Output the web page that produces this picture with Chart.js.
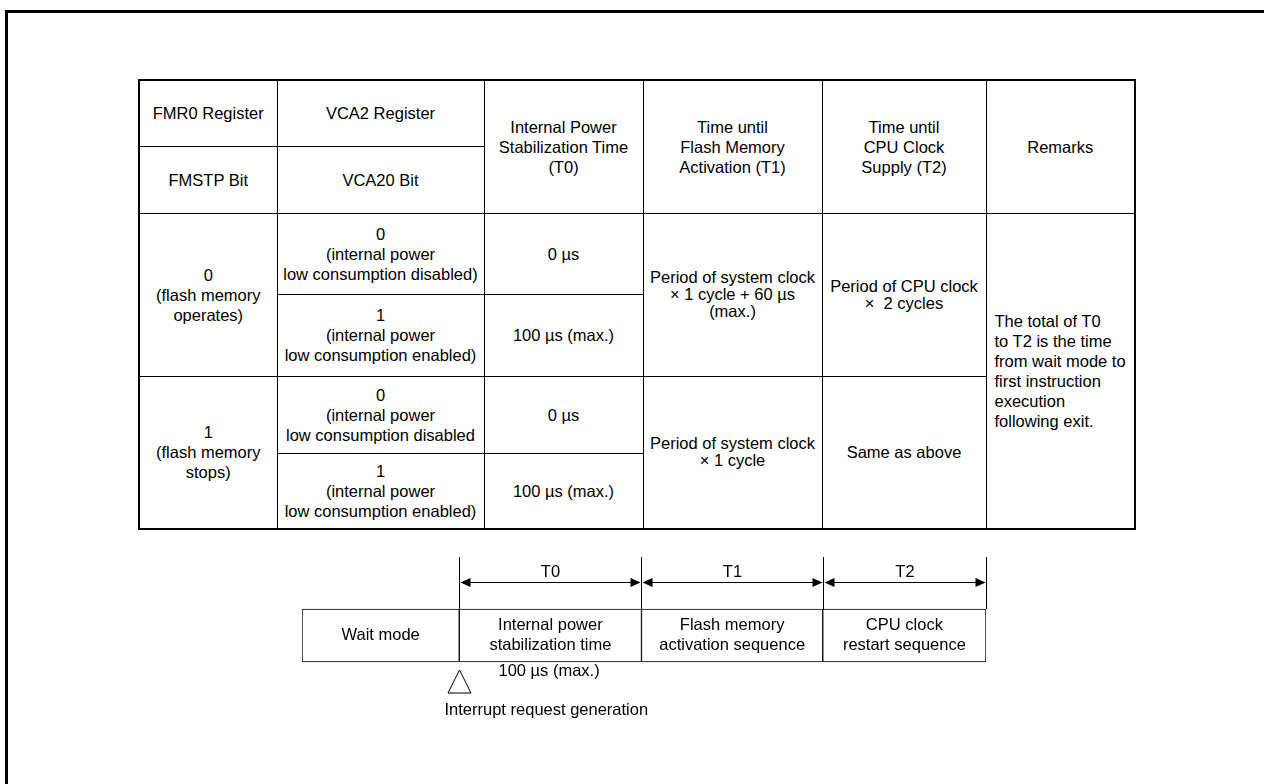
<!DOCTYPE html>
<html>
<head>
<meta charset="utf-8">
<script src="https://cdn.jsdelivr.net/npm/chart.js@4.4.1/dist/chart.umd.min.js"></script>
<style>
  html, body { margin: 0; padding: 0; background: #fff; }
  body { width: 1264px; height: 784px; overflow: hidden; position: relative; font-family: "Liberation Sans", Arial, sans-serif; color: #000; }
  .frame { position: absolute; left: 5px; top: 10px; width: 1300px; height: 800px; border-left: 3px solid #000; border-top: 3px solid #000; }
  table.spec { position: absolute; left: 138px; top: 79px; border-collapse: collapse; table-layout: fixed; border: 2px solid #000; font-size: 16.5px; line-height: 20px; }
  table.spec td { border: 1px solid #000; padding: 0; text-align: center; vertical-align: middle; white-space: pre; overflow: visible; }
  table.spec td.tight { line-height: 17px; }
  table.spec td.remarks { text-align: left; padding-left: 8px; }
  #timing { position: absolute; left: 300px; top: 550px; }
</style>
</head>
<body>
<div class="frame"></div>
<table class="spec" id="spec">
  <colgroup>
    <col style="width:138px"><col style="width:207px"><col style="width:159px">
    <col style="width:179px"><col style="width:164px"><col style="width:149px">
  </colgroup>
  <tbody id="specBody"></tbody>
</table>
<div id="timing" style="width:688px;height:175px"><canvas id="timingChart"></canvas></div>
<script>
// table contents
const registerNames = ['FMR0 Register', 'VCA2 Register'];
const bitNames = ['FMSTP Bit', 'VCA20 Bit'];
const timeHeaders = ['Internal Power\nStabilization Time\n(T0)', 'Time until\nFlash Memory\nActivation (T1)', 'Time until\nCPU Clock\nSupply (T2)', 'Remarks'];
const fmstpValues = ['0\n(flash memory\noperates)', '1\n(flash memory\nstops)'];
const vca20Values = [
  '0\n(internal power\nlow consumption disabled)',
  '1\n(internal power\nlow consumption enabled)',
  '0\n(internal power\nlow consumption disabled',
  '1\n(internal power\nlow consumption enabled)'
];
const t0Values = ['0 \u00b5s', '100 \u00b5s (max.)', '0 \u00b5s', '100 \u00b5s (max.)'];
const t1Values = ['Period of system clock\n\u00d7 1 cycle + 60 \u00b5s\n(max.)', 'Period of system clock\n\u00d7 1 cycle'];
const t2Values = ['Period of CPU clock\n\u00d7  2 cycles', 'Same as above'];
const remarksText = 'The total of T0\nto T2 is the time\nfrom wait mode to\nfirst instruction\nexecution\nfollowing exit.';

// timing diagram
const phaseNames = ['Wait mode', 'Internal power\nstabilization time', 'Flash memory\nactivation sequence', 'CPU clock\nrestart sequence'];
const phaseTags = ['', 'T0', 'T1', 'T2'];
const phaseLength = [157, 182, 181, 163]; // relative length drawn for each phase
const t0Note = '100 \u00b5s (max.)';
const triggerNote = 'Interrupt request generation';

const FONT = '16.5px "Liberation Sans", Arial, sans-serif';

function cell(text, opts) {
  const td = document.createElement('td');
  td.textContent = text;
  if (opts && opts.rs) td.rowSpan = opts.rs;
  if (opts && opts.cls) td.className = opts.cls;
  return td;
}
function row(h, cells) {
  const tr = document.createElement('tr');
  tr.style.height = h + 'px';
  cells.forEach(c => tr.appendChild(c));
  return tr;
}

function buildTable() {
  const body = document.getElementById('specBody');
  const rowH = [66, 67, 81, 82, 77, 76];
  body.appendChild(row(rowH[0], [
    cell(registerNames[0]), cell(registerNames[1]),
    cell(timeHeaders[0], {rs:2}), cell(timeHeaders[1], {rs:2}), cell(timeHeaders[2], {rs:2}), cell(timeHeaders[3], {rs:2})
  ]));
  body.appendChild(row(rowH[1], [cell(bitNames[0]), cell(bitNames[1])]));
  for (let g = 0; g < 2; g++) {
    const first = [cell(fmstpValues[g], {rs:2}), cell(vca20Values[g*2]), cell(t0Values[g*2]),
      cell(t1Values[g], {rs:2, cls:'tight'}), cell(t2Values[g], {rs:2, cls:'tight'})];
    if (g === 0) first.push(cell(remarksText, {rs:4, cls:'remarks'}));
    body.appendChild(row(rowH[2 + g*2], first));
    body.appendChild(row(rowH[3 + g*2], [cell(vca20Values[g*2+1]), cell(t0Values[g*2+1])]));
  }
}

// draws labels, dimension arrows and the trigger marker onto the timing bars
const timingDecor = {
  id: 'timingDecor',
  afterDatasetsDraw(chart) {
    const ctx = chart.ctx;
    const xs = chart.scales.x;
    const bars = chart.data.datasets.map((d, i) => chart.getDatasetMeta(i).data[0]);
    const top = bars[0].y - bars[0].height / 2;
    const bottom = bars[0].y + bars[0].height / 2;
    const bounds = [0];
    phaseLength.forEach((v, i) => bounds.push(bounds[i] + v));
    const px = bounds.map(b => Math.round(xs.getPixelForValue(b)) + 0.5);

    ctx.save();
    ctx.strokeStyle = '#000';
    ctx.fillStyle = '#000';
    ctx.lineWidth = 1;
    ctx.font = FONT;
    ctx.textAlign = 'center';
    ctx.textBaseline = 'middle';

    // phase names inside the boxes
    bars.forEach((b, i) => {
      const lines = phaseNames[i].split('\n');
      lines.forEach((ln, k) => ctx.fillText(ln, b.x - b.width / 2, b.y + (k - (lines.length - 1) / 2) * 20));
    });

    // extension lines and arrows
    const lineTop = top - 52;
    const arrowY = top - 26.5;
    for (let i = 1; i < px.length; i++) {
      ctx.beginPath();
      ctx.moveTo(px[i], lineTop);
      ctx.lineTo(px[i], top);
      ctx.stroke();
    }
    for (let i = 1; i < phaseTags.length; i++) {
      const a = px[i], b = px[i + 1];
      ctx.beginPath();
      ctx.moveTo(a + 2, arrowY);
      ctx.lineTo(b - 2, arrowY);
      ctx.stroke();
      ctx.beginPath();
      ctx.moveTo(a + 1, arrowY); ctx.lineTo(a + 11, arrowY - 4.5); ctx.lineTo(a + 11, arrowY + 4.5); ctx.closePath();
      ctx.fill();
      ctx.beginPath();
      ctx.moveTo(b - 1, arrowY); ctx.lineTo(b - 11, arrowY - 4.5); ctx.lineTo(b - 11, arrowY + 4.5); ctx.closePath();
      ctx.fill();
      ctx.fillText(phaseTags[i], (a + b) / 2, arrowY - 10);
    }

    // trigger triangle and notes
    const tx = px[1];
    ctx.beginPath();
    ctx.moveTo(tx, bottom + 8);
    ctx.lineTo(tx + 11.5, bottom + 31);
    ctx.lineTo(tx - 11.5, bottom + 31);
    ctx.closePath();
    ctx.stroke();
    ctx.textAlign = 'left';
    ctx.fillText(t0Note, tx + 39, bottom + 9);
    ctx.fillText(triggerNote, tx - 15, bottom + 48);
    ctx.restore();
  }
};

function buildTiming() {
  const total = phaseLength.reduce((s, v) => s + v, 0);
  const ctx = document.getElementById('timingChart').getContext('2d');
  new Chart(ctx, {
    type: 'bar',
    data: {
      labels: ['phases'],
      datasets: phaseLength.map((v, i) => ({
        label: phaseNames[i],
        data: [v],
        backgroundColor: '#fff',
        borderColor: '#000',
        borderWidth: 1,
        borderSkipped: false,
        barThickness: 53
      }))
    },
    options: {
      indexAxis: 'y',
      responsive: true,
      maintainAspectRatio: false,
      animation: false,
      layout: { padding: { left: 2, right: 2, top: 0, bottom: 4 } },
      scales: {
        x: { stacked: true, display: false, min: 0, max: total },
        y: { stacked: true, display: false }
      },
      plugins: { legend: { display: false }, tooltip: { enabled: false } }
    },
    plugins: [timingDecor]
  });
}

buildTable();
buildTiming();
</script>
</body>
</html>
